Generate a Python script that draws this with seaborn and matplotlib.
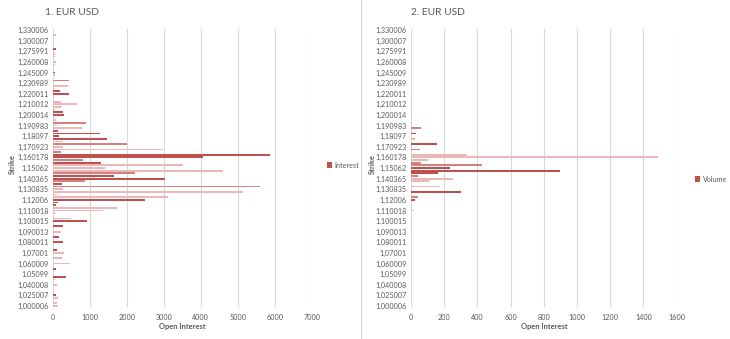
import numpy as np
import pandas as pd
import matplotlib
matplotlib.use("Agg")
import matplotlib.pyplot as plt
import seaborn as sns
from matplotlib.patches import Patch

# ---------------- data ----------------
# labelled strikes (every 4th category), top to bottom
strike_labels = ["1,330006", "1,300007", "1,275991", "1,260008", "1,245009", "1,230989",
                 "1,220011", "1,210012", "1,200014", "1,190983", "1,18097", "1,170923",
                 "1,160178", "1,15062", "1,140365", "1,130835", "1,12006", "1,110018",
                 "1,100015", "1,090013", "1,080011", "1,07001", "1,060009", "1,05099",
                 "1,040008", "1,025007", "1,000006"]

# open interest per strike category, top (1,330006) to bottom (1,000006)
interest = [0, 0, 90, 0, 0, 0, 0, 100, 0, 50,
            70, 0, 100, 60, 0, 0, 60, 50, 0, 450,
            0, 400, 0, 200, 450, 40, 0, 230, 650, 220,
            55, 290, 300, 55, 100, 900, 110, 780, 150, 1280,
            160, 1480, 270, 2000, 290, 2990, 215, 5870, 4050, 830,
            1300, 3530, 1410, 4590, 2220, 1660, 3030, 880, 250, 5600,
            270, 5130, 125, 3120, 2490, 150, 80, 1750, 1350, 55,
            0, 495, 920, 0, 290, 0, 215, 0, 160, 0,
            290, 0, 0, 110, 305, 0, 245, 0, 470, 0,
            80, 0, 0, 350, 70, 0, 125, 0, 0, 45,
            80, 135, 0, 110, 145]

# volume per strike category, top to bottom
volume = [0, 0, 0, 0, 0, 0, 0, 0, 0, 0,
          0, 0, 0, 0, 0, 0, 0, 0, 0, 0,
          0, 0, 0, 0, 0, 0, 0, 0, 8, 0,
          0, 0, 6, 0, 0, 8, 0, 60, 0, 28,
          0, 24, 0, 155, 6, 54, 0, 335, 1490, 102,
          58, 430, 235, 900, 165, 44, 255, 106, 0, 175,
          0, 300, 0, 40, 24, 0, 0, 0, 18, 0,
          0, 0, 0, 8, 0, 0, 0, 0, 0, 0,
          0, 0, 0, 0, 0, 0, 0, 0, 0, 0,
          0, 0, 0, 0, 0, 0, 0, 0, 0, 0,
          0, 0, 0, 0, 0]

x_ticks_interest = [0, 1000, 2000, 3000, 4000, 5000, 6000, 7000]
x_ticks_volume = [0, 200, 400, 600, 800, 1000, 1200, 1400, 1600]

# ---------------- style ----------------
DARK, MED, LIGHT = "#C0504D", "#D5807E", "#EBB8B7"
interest_dark = [7, 16, 23, 24, 31, 32, 38, 39, 40, 41, 47, 48, 50, 55, 56, 58, 64, 65, 66,
                 72, 74, 78, 80, 83, 90, 93, 100]
interest_med = [19, 35, 43, 46, 49, 54, 57, 59]
volume_dark = [39, 43, 52, 53, 54, 61, 64]
volume_med = [37, 45, 50, 51, 55, 63]

def shade_of(i, dark, med):
    return DARK if i in dark else MED if i in med else LIGHT

TXT = "#595959"
GRID = "#D9D9D9"
FONT = ["Lato", "DejaVu Sans"]

sns.set_theme(style="white")
plt.rcParams["font.family"] = FONT

fig = plt.figure(figsize=(7.30, 3.39), dpi=100)
W, H = 730, 339

def px_axes(x0, x1, y0, y1):
    return fig.add_axes([x0 / W, 1 - y1 / H, (x1 - x0) / W, (y1 - y0) / H])

n = len(interest)
pos = list(range(n))
keys = [f"k{i:03d}" for i in pos]

panels = [
    (interest, x_ticks_interest, interest_dark, interest_med,
     (52.7, 311.7), "Interest", "1. EUR USD", 72, 12, 330, 165),
    (volume, x_ticks_volume, volume_dark, volume_med,
     (411.0, 676.7), "Volume", "2. EUR USD", 438, 372, 698, 179),
]

for vals, xt, dk, md, (x0, x1), legname, title, tx, ylx, legx, legy in panels:
    ax = px_axes(x0, x1, 28.7, 307.3)
    df = pd.DataFrame({"pos": pos, "val": vals, "key": keys})
    pal = {k: shade_of(i, dk, md) for i, k in enumerate(keys)}
    sns.barplot(data=df, x="val", y="pos", hue="key", palette=pal, orient="y",
                dodge=False, legend=False, width=0.68, ax=ax, saturation=1,
                linewidth=0, errorbar=None)
    ax.set_xlim(xt[0], xt[-1])
    ax.set_ylim(n - 0.5, -0.5)
    ax.set_xticks(xt)
    ax.set_xticklabels([str(v) for v in xt], fontsize=5.2, color=TXT)
    ax.set_yticks(list(range(0, n, 4)))
    ax.set_yticklabels(strike_labels, fontsize=5.2, color=TXT)
    ax.tick_params(axis="both", length=0, pad=3)
    ax.tick_params(axis="x", pad=5)
    ax.xaxis.grid(True, color=GRID, lw=0.8)
    ax.yaxis.grid(False)
    ax.set_axisbelow(True)
    for s in ax.spines.values():
        s.set_visible(False)
    ax.set_xlabel("")
    ax.set_ylabel("")
    fig.text((x0 + x1) / 2 / W, 1 - 327 / H, "Open Interest", ha="center", va="center",
             fontsize=5.4, color=TXT, fontweight="bold")
    fig.text(ylx / W, 1 - 164 / H, "Strike", ha="center", va="center", rotation=90,
             fontsize=5.4, color=TXT, fontweight="bold")
    fig.text(tx / W, 1 - 12.5 / H, title, ha="center", va="center", fontsize=7.4, color=TXT)
    handle = Patch(facecolor=DARK, edgecolor="none")
    fig.legend([handle], [legname], loc="center left",
               bbox_to_anchor=((legx - 6) / W, 1 - legy / H),
               frameon=False, fontsize=5.2, labelcolor=TXT, handlelength=0.7,
               handleheight=0.7, handletextpad=0.4, borderaxespad=0)

# separator between the two chart images
fig.add_artist(plt.Line2D([361 / W, 361 / W], [0, 1], color="#D0D0D0", lw=0.8))

fig.savefig("out.png", dpi=100, facecolor="white")
